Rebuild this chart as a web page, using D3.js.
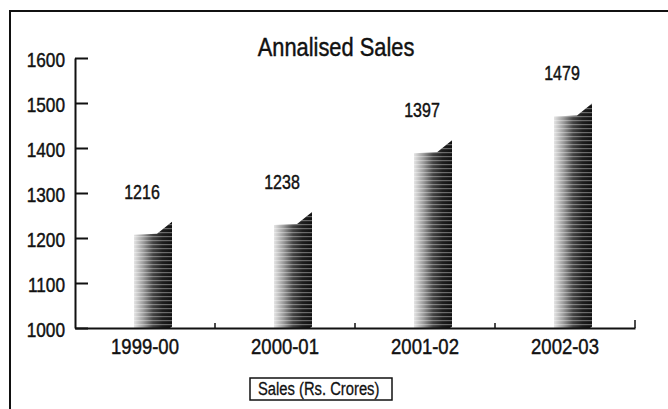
<!DOCTYPE html>
<html>
<head>
<meta charset="utf-8">
<script src="https://cdn.jsdelivr.net/npm/d3@7"></script>
<style>
  body { margin: 0; background: #fff; }
  text { font-family: "Liberation Sans", Arial, sans-serif; fill: #111; stroke: #111; stroke-width: 0.45px; }
</style>
</head>
<body>
<div id="chart"></div>
<script>
// chart data
var years = ["1999-00", "2000-01", "2001-02", "2002-03"];
var sales = [1216, 1238, 1397, 1479];
var yTicks = [1000, 1100, 1200, 1300, 1400, 1500, 1600];

var svgWidth = 668;
var svgHeight = 409;

var svg = d3.select("#chart")
  .append("svg")
  .attr("width", svgWidth)
  .attr("height", svgHeight);

// squeeze text horizontally, the print uses a narrow face
function condense(sel, k) {
  sel.each(function () {
    var w = this.getComputedTextLength();
    d3.select(this).attr("textLength", w * k).attr("lengthAdjust", "spacingAndGlyphs");
  });
}

// frame (left and top edges only are in view)
svg.append("path")
  .attr("d", "M10,409V11H668")
  .attr("fill", "none")
  .attr("stroke", "#111")
  .attr("stroke-width", 2);

// scales
var x = d3.scaleBand()
  .domain(years)
  .range([75, 635])
  .padding(0);

var y = d3.scaleLinear()
  .domain([1000, 1600])
  .range([328, 58]);

// gradient and streak texture for the bars
var defs = svg.append("defs");
var grad = defs.append("linearGradient")
  .attr("id", "barGrad")
  .attr("x1", "0%").attr("x2", "100%")
  .attr("y1", "0%").attr("y2", "0%");
grad.append("stop").attr("offset", "0%").attr("stop-color", "#e4e4e4");
grad.append("stop").attr("offset", "25%").attr("stop-color", "#9a9a9a");
grad.append("stop").attr("offset", "50%").attr("stop-color", "#444");
grad.append("stop").attr("offset", "75%").attr("stop-color", "#1e1e1e");
grad.append("stop").attr("offset", "100%").attr("stop-color", "#111");

var pat = defs.append("pattern")
  .attr("id", "streaks")
  .attr("width", 6).attr("height", 4)
  .attr("patternUnits", "userSpaceOnUse");
pat.append("rect")
  .attr("width", 6).attr("height", 1.2)
  .attr("fill", "#fff")
  .attr("opacity", 0.35);

// bars: slanted tops rising to the right
function barPath(d, i) {
  var c = x(years[i]) + x.bandwidth() / 2;
  var x0 = c - 11, x1 = c + 27;
  var top = y(d);
  var b = y(1000);
  return "M" + x0 + "," + b +
    "V" + (top + 4) +
    "L" + (c + 12) + "," + (top + 3) +
    "L" + x1 + "," + (top - 9) +
    "V" + (b - 2) +
    "Q" + x1 + "," + b + " " + (x1 - 4) + "," + b + "Z";
}

svg.selectAll(".bar")
  .data(sales)
  .enter()
  .append("path")
  .attr("class", "bar")
  .attr("d", barPath)
  .attr("fill", "url(#barGrad)");

svg.selectAll(".streak")
  .data(sales)
  .enter()
  .append("path")
  .attr("class", "streak")
  .attr("d", barPath)
  .attr("fill", "url(#streaks)");

// y axis, ticks pointing inward
var leftAxis = d3.axisLeft(y)
  .tickValues(yTicks)
  .tickSizeInner(-13)
  .tickSizeOuter(0)
  .tickPadding(10)
  .tickFormat(d3.format("d"));

var gy = svg.append("g")
  .attr("transform", "translate(75,0)")
  .call(leftAxis);
gy.select(".domain").attr("stroke", "#111").attr("stroke-width", 2);
gy.selectAll(".tick line").attr("stroke", "#111").attr("stroke-width", 2);
gy.selectAll(".tick text")
  .attr("dy", "0.4em")
  .style("font-size", "21px")
  .style("font-family", "'Liberation Sans', Arial, sans-serif")
  .attr("fill", "#111")
  .call(condense, 0.82);

// x axis
var bottomAxis = d3.axisBottom(x)
  .tickSize(0)
  .tickPadding(10);

var gx = svg.append("g")
  .attr("transform", "translate(0,328)")
  .call(bottomAxis);
gx.select(".domain").attr("stroke", "#111").attr("stroke-width", 2);
gx.selectAll(".tick text")
  .style("font-size", "22px")
  .style("font-family", "'Liberation Sans', Arial, sans-serif")
  .attr("fill", "#111")
  .call(condense, 0.84);

// small separators between categories
svg.selectAll(".sep")
  .data(years)
  .enter()
  .append("line")
  .attr("class", "sep")
  .attr("x1", d => x(d) + x.bandwidth())
  .attr("x2", d => x(d) + x.bandwidth())
  .attr("y1", 328)
  .attr("y2", (d, i) => i === years.length - 1 ? 320 : 323)
  .attr("stroke", "#111")
  .attr("stroke-width", 1.5);

// value labels
svg.selectAll(".val")
  .data(sales)
  .enter()
  .append("text")
  .attr("class", "val")
  .attr("x", (d, i) => x(years[i]) + x.bandwidth() / 2 - 3)
  .attr("y", d => y(d) - 32)
  .attr("text-anchor", "middle")
  .style("font-size", "20px")
  .text(d => d)
  .call(condense, 0.8);

// title
svg.append("text")
  .attr("x", 336)
  .attr("y", 56)
  .attr("text-anchor", "middle")
  .style("font-size", "26px")
  .text("Annalised Sales")
  .call(condense, 0.84);

// legend box
svg.append("rect")
  .attr("x", 250)
  .attr("y", 378)
  .attr("width", 142)
  .attr("height", 22)
  .attr("fill", "#fff")
  .attr("stroke", "#111")
  .attr("stroke-width", 1.5);

svg.append("text")
  .attr("x", 258)
  .attr("y", 395)
  .style("font-size", "18px")
  .style("stroke-width", "0.3px")
  .text("Sales (Rs. Crores)")
  .call(condense, 0.82);
</script>
</body>
</html>
